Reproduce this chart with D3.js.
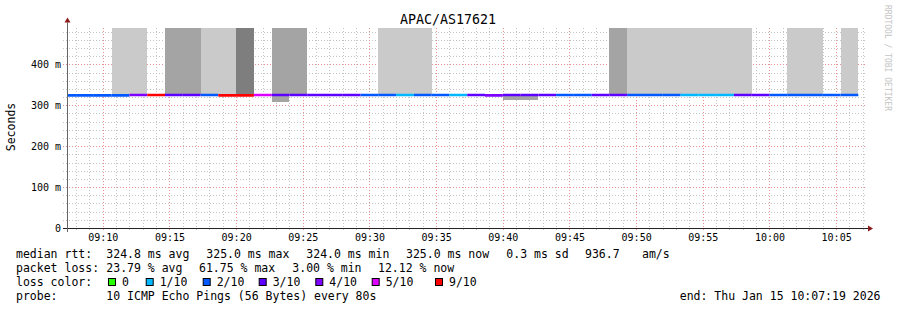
<!DOCTYPE html>
<html><head><meta charset="utf-8">
<script src="https://cdn.jsdelivr.net/npm/d3@7/dist/d3.min.js"></script>
<style>
body{margin:0;background:#fff;}
svg text{font-family:"DejaVu Sans Mono",monospace;white-space:pre;fill:#000;}
</style></head><body>
<svg id="c" width="897" height="310"></svg>
<script>
// ---------- data ----------
const title = "APAC/AS17621";
const yTitle = "Seconds";
const watermark = "RRDTOOL / TOBI OETIKER";
const startTime = "2026-01-15T09:07:19";
const endTime = "2026-01-15T10:07:19";
const firstBinStart = "2026-01-15T09:06:40";
const stepSeconds = 80;

// median rtt per 80 s bin (ms)
const median = [324,324,324,324,325,325,325,325,325,324,324,325,325,325,325,325,325,325,325,325,325,325,325,325,324,325,325,325,325,325,325,325,325,325,325,325,325,325,325,325,325,325,325,325,325];
// packet loss per bin (out of 10 pings)
const lossTenths = [2,2,2,2,4,9,3,3,2,9,9,5,3,3,3,3,3,2,2,1,2,2,1,3,4,3,3,3,2,2,3,3,2,2,2,1,1,1,3,3,2,2,2,2,2];
// smoke (ping spread) per bin: low / high (ms) and shade level (0 = none)
const smokeLo = [null,null,null,324,325,null,325,325,325,324,324,null,308,325,null,null,null,null,325,325,325,null,null,null,null,313,313,null,null,null,null,325,325,325,325,325,325,325,325,null,null,325,325,null,325];
const smokeHi = [null,null,null,490,490,null,490,490,490,490,490,null,490,490,null,null,null,null,490,490,490,null,null,null,null,325,325,null,null,null,null,490,490,490,490,490,490,490,490,null,null,490,490,null,490];
const smokeShade = [0,0,0,1,1,0,2,2,1,1,3,0,2,2,0,0,0,0,1,1,1,0,0,0,0,2,2,0,0,0,0,2,1,1,1,1,1,1,1,0,0,1,1,0,1];

const lossLevels = [0,1,2,3,4,5,9];
const lossLabels = ["0","1/10","2/10","3/10","4/10","5/10","9/10"];
const lossColors = ["#26ff00","#00b8ff","#0059ff","#5e00ff","#7e00ff","#dd00ff","#ff0000"];
const smokeColors = ["none","#cacaca","#a4a4a4","#7e7e7e"];

const yTicks = [0,100,200,300,400];
const yTickLabels = ["0","100 m","200 m","300 m","400 m"];

const rttLabel = "median rtt:";
const rttItems = ["324.8 ms avg","325.0 ms max","324.0 ms min","325.0 ms now","0.3 ms sd","936.7","am/s"];
const lossLabel = "packet loss:";
const lossItems = ["23.79 % avg","61.75 % max","3.00 % min","12.12 % now"];
const colorLabel = "loss color:";
const probeLabel = "probe:";
const probeText = "10 ICMP Echo Pings (56 Bytes) every 80s";
const endText = "end: Thu Jan 15 10:07:19 2026";

// ---------- layout ----------
const L = 67, R = 867, B = 228, T = 27.5;
const rttX = [106.3,206.3,306.3,406,506.3,585,642];
const lossX = [106.3,199,292.3,378];
const boxX = [108,145.7,202.7,258.7,315.3,371.7,435];
const legFont = "11.5px", axFont = "10px";
const minorGrid = "#c4c4c4", majorGrid = "#e99090", dash = "1,2";

const svg = d3.select("#c");
const start = new Date(startTime), end = new Date(endTime);
const x = d3.scaleTime().domain([start, end]).range([L, R]);
const y = d3.scaleLinear().domain([0, 490]).range([B, T]);

const t0 = new Date(firstBinStart);
const bins = median.map((m, i) => ({
  s: new Date(+t0 + i * stepSeconds * 1000),
  e: new Date(+t0 + (i + 1) * stepSeconds * 1000),
  m, loss: lossTenths[i], lo: smokeLo[i], hi: smokeHi[i], sh: smokeShade[i]
}));

svg.append("defs").append("clipPath").attr("id","pc")
  .append("rect").attr("x",L).attr("y",T).attr("width",R-L).attr("height",B-T);

// ---------- grid (under the smoke) ----------
const g = svg.append("g").attr("shape-rendering","crispEdges");
const minorY = d3.range(20, 490, 20).filter(v => v % 100 !== 0);
const px = v => Math.round(v) + 0.5;
g.selectAll(".hy").data(minorY).join("line")
  .attr("x1", L-4).attr("x2", R).attr("y1", d => px(y(d))).attr("y2", d => px(y(d)))
  .attr("stroke", minorGrid).attr("stroke-dasharray", dash);
const minuteTicks = x.ticks(d3.timeMinute.every(1)).filter(d => d.getMinutes() % 5 !== 0);
g.selectAll(".vx").data(minuteTicks).join("line")
  .attr("x1", d => px(x(d))).attr("x2", d => px(x(d))).attr("y1", T).attr("y2", B+3)
  .attr("stroke", minorGrid).attr("stroke-dasharray", dash);
g.selectAll(".my").data(yTicks.slice(1)).join("line")
  .attr("x1", L-4).attr("x2", R).attr("y1", d => px(y(d))).attr("y2", d => px(y(d)))
  .attr("stroke", majorGrid).attr("stroke-dasharray", dash);
const fiveTicks = x.ticks(d3.timeMinute.every(5));
g.selectAll(".mx").data(fiveTicks).join("line")
  .attr("x1", d => px(x(d))).attr("x2", d => px(x(d))).attr("y1", T).attr("y2", B+3)
  .attr("stroke", majorGrid).attr("stroke-dasharray", dash);

// ---------- smoke ----------
const plot = svg.append("g").attr("clip-path","url(#pc)");
plot.selectAll(".smoke").data(bins.filter(b => b.sh > 0)).join("rect")
  .attr("x", b => x(b.s)).attr("width", b => x(b.e) - x(b.s))
  .attr("y", b => y(b.hi)).attr("height", b => y(b.lo) - y(b.hi))
  .attr("fill", b => smokeColors[b.sh]).attr("shape-rendering","crispEdges");

// ---------- median line coloured by loss ----------
const colorFor = l => { let c = lossColors[0]; lossLevels.forEach((lv, i) => { if (l >= lv) c = lossColors[i]; }); return c; };
const plot2 = svg.append("g").attr("clip-path","url(#pc)");
plot2.selectAll(".med").data(bins).join("line")
  .attr("x1", b => x(b.s)).attr("x2", b => x(b.e))
  .attr("y1", b => y(b.m)).attr("y2", b => y(b.m))
  .attr("stroke", b => colorFor(b.loss)).attr("stroke-width", 2.6);

// ---------- axes ----------
svg.append("line").attr("x1", L-4).attr("x2", R+1).attr("y1", B+0.5).attr("y2", B+0.5).attr("stroke","#222");
svg.append("line").attr("x1", L+0.5).attr("x2", L+0.5).attr("y1", B+4).attr("y2", T-5).attr("stroke","#666");
svg.append("path").attr("d", `M${R+1},${B-2.5}L${R+6},${B+0.5}L${R+1},${B+3.5}Z`).attr("fill","#8b1a1a");
svg.append("path").attr("d", `M${L-2.5},${T-5}L${L+0.5},${T-10}L${L+3.5},${T-5}Z`).attr("fill","#8b1a1a");

const xa = svg.append("g").attr("transform", `translate(0,${B})`)
  .call(d3.axisBottom(x).ticks(d3.timeMinute.every(5)).tickFormat(d3.timeFormat("%H:%M")).tickSize(0).tickPadding(6));
xa.select(".domain").remove();
xa.selectAll("text").style("font-size", axFont).style("font-family","DejaVu Sans Mono");

const ya = svg.append("g").attr("transform", `translate(${L},0)`)
  .call(d3.axisLeft(y).tickValues(yTicks).tickFormat((d, i) => yTickLabels[i]).tickSize(0).tickPadding(6));
ya.select(".domain").remove();
ya.selectAll("text").style("font-size", axFont).style("font-family","DejaVu Sans Mono");

// ---------- titles ----------
svg.append("text").attr("x", 448).attr("y", 24).attr("text-anchor","middle").style("font-size","13.3px").text(title);
svg.append("text").attr("transform","translate(15,127) rotate(-90)").attr("text-anchor","middle").style("font-size","11.5px").text(yTitle);
svg.append("text").attr("transform","translate(884.5,5) rotate(90)").style("font-size","8px").style("fill","#c4c4c4").text(watermark);

// ---------- legend ----------
const leg = svg.append("g").style("font-size", legFont);
leg.append("text").attr("x",16).attr("y",258).text(rttLabel);
rttItems.forEach((t,i) => leg.append("text").attr("x",rttX[i]).attr("y",258).text(t));
leg.append("text").attr("x",16).attr("y",272).text(lossLabel);
lossItems.forEach((t,i) => leg.append("text").attr("x",lossX[i]).attr("y",272).text(t));
leg.append("text").attr("x",16).attr("y",286).text(colorLabel);
lossLabels.forEach((t,i) => {
  leg.append("rect").attr("x",boxX[i]+0.5).attr("y",278.5).attr("width",7).attr("height",7)
    .attr("fill",lossColors[i]).attr("stroke","#000").attr("stroke-width",1);
  leg.append("text").attr("x",boxX[i]+14).attr("y",286).text(t);
});
leg.append("text").attr("x",16).attr("y",300).text(probeLabel);
leg.append("text").attr("x",106.3).attr("y",300).text(probeText);
leg.append("text").attr("x",880.5).attr("y",300).attr("text-anchor","end").text(endText);
</script>
</body></html>
